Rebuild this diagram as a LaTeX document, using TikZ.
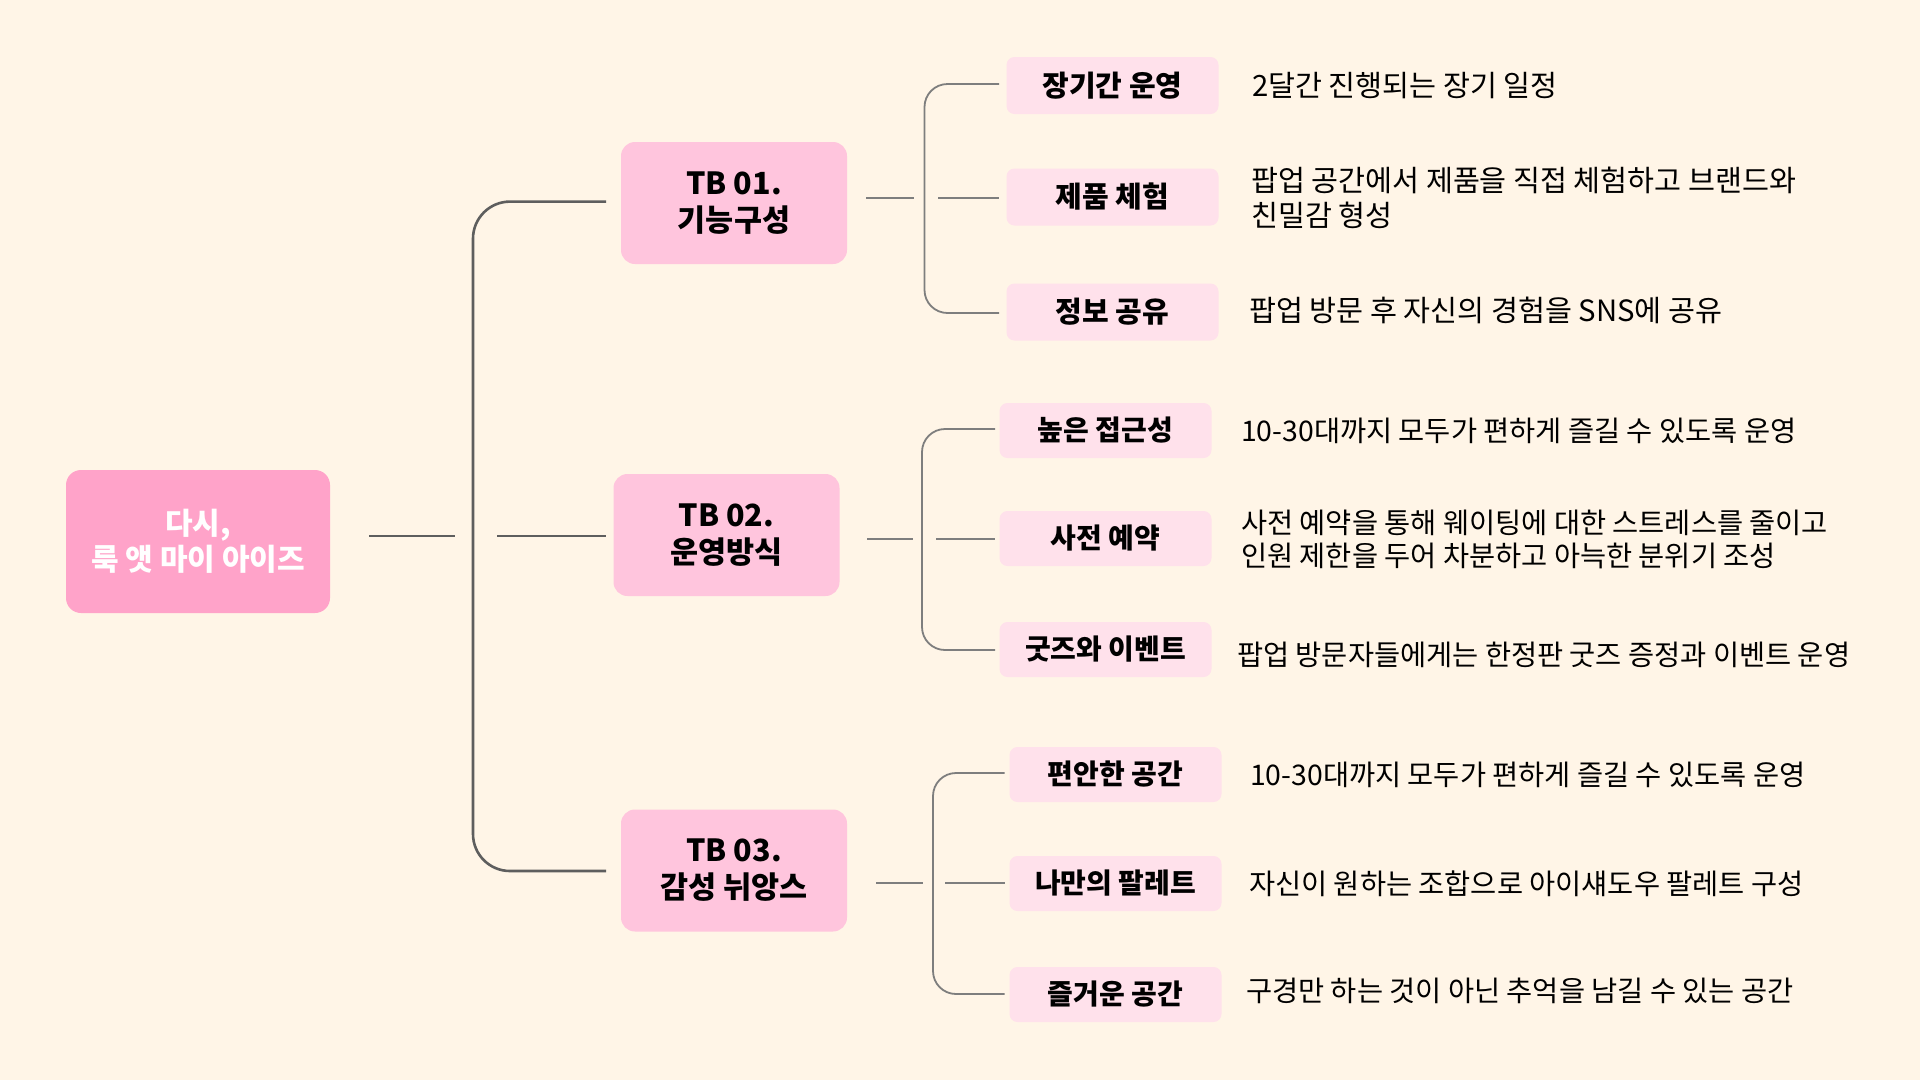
\documentclass[tikz,border=0pt]{standalone}
\usepackage{fontspec}
\setmainfont{Noto Sans CJK KR}
\usepackage{tikz}
\definecolor{paper}{HTML}{FFF5E7}
\definecolor{rootpink}{HTML}{FFA3C9}
\definecolor{tbpink}{HTML}{FFC5DD}
\definecolor{leafpink}{HTML}{FFE1EB}
\definecolor{mainline}{HTML}{5E5E5E}
\definecolor{subline}{HTML}{7E7E7E}

\begin{document}
\begin{tikzpicture}[x=1pt,y=-1pt]
% Styles
\tikzstyle{root box}=[fill=rootpink,rounded corners=15pt,minimum width=264pt,minimum height=143pt,text=white,font=\fontsize{30pt}{36pt}\selectfont\bfseries,align=center,inner sep=0pt]
\tikzstyle{tb box}=[fill=tbpink,rounded corners=14pt,minimum width=226pt,minimum height=122pt,font=\fontsize{30.5pt}{37pt}\selectfont\bfseries,align=center,inner sep=0pt]
\tikzstyle{leaf box}=[fill=leafpink,rounded corners=8pt,minimum width=212pt,minimum height=55pt,font=\fontsize{28pt}{33pt}\selectfont\bfseries,inner sep=0pt]
\tikzstyle{leaf one}=[leaf box,minimum height=57pt,font=\fontsize{29pt}{34pt}\selectfont\bfseries]
\tikzstyle{information text}=[anchor=west,align=left,inner sep=0pt,font=\fontsize{28.4pt}{33pt}\selectfont]
\tikzstyle{information one}=[information text,font=\fontsize{29.3pt}{34.5pt}\selectfont]
\tikzstyle{main link}=[draw=mainline,line width=2.6pt]
\tikzstyle{sub link}=[draw=subline,line width=1.8pt]

% background
\fill[paper] (0,0) rectangle (1920,1080);

% draw the nodes
\node[root box] (root) at (198,541.5) {다시,\\룩 앳 마이 아이즈};

\node[tb box] (tb1) at (734,203) {TB 01.\\기능구성};
\node[tb box] (tb2) at (726.5,535) {TB 02.\\운영방식};
\node[tb box] (tb3) at (734,870.5) {TB 03.\\감성 뉘앙스};

\foreach \n/\x/\y/\t in {l11/1112.5/85.5/장기간 운영,l12/1112.5/197/제품 체험,l13/1112.5/312/정보 공유} {
\node[leaf one] (\n) at (\x,\y) {\t};
}
\foreach \n/\x/\y/\t in {l21/1105.5/430.5/높은 접근성,l22/1105.5/538.5/사전 예약,l23/1105.5/649.5/굿즈와 이벤트,
  l31/1115.5/774.5/편안한 공간,l32/1115.5/883.5/나만의 팔레트,l33/1115.5/994.5/즐거운 공간} {
\node[leaf box] (\n) at (\x,\y) {\t};
}

\node[information one] (d11) at (1252,85.5) {2달간 진행되는 장기 일정};
\node[information one] (d12) at (1251,198) {팝업 공간에서 제품을 직접 체험하고 브랜드와\\친밀감 형성};
\node[information one] (d13) at (1249,310) {팝업 방문 후 자신의 경험을 SNS에 공유};
\node[information text] (d21) at (1241,430.5) {10-30대까지 모두가 편하게 즐길 수 있도록 운영};
\node[information text] (d22) at (1241,539) {사전 예약을 통해 웨이팅에 대한 스트레스를 줄이고\\인원 제한을 두어 차분하고 아늑한 분위기 조성};
\node[information text] (d23) at (1237,655) {팝업 방문자들에게는 한정판 굿즈 증정과 이벤트 운영};
\node[information text] (d31) at (1250,774.5) {10-30대까지 모두가 편하게 즐길 수 있도록 운영};
\node[information text] (d32) at (1249,883.5) {자신이 원하는 조합으로 아이섀도우 팔레트 구성};
\node[information text] (d33) at (1246,991) {구경만 하는 것이 아닌 추억을 남길 수 있는 공간};

% line ends
\coordinate (r0) at (369,536);
\coordinate (r1) at (455,536);
\coordinate (s0) at (497,536);
\coordinate (s1) at (606,536);
\coordinate (s2) at (606,201.6);
\coordinate (s3) at (606,871);
\coordinate (a0) at (866,198);   \coordinate (a1) at (914,198);
\coordinate (a2) at (938,198);   \coordinate (a3) at (999,198);
\coordinate (a4) at (999,84);    \coordinate (a5) at (999,313);
\coordinate (b0) at (867,539);   \coordinate (b1) at (913,539);
\coordinate (b2) at (936,539);   \coordinate (b3) at (995,539);
\coordinate (b4) at (995,429);   \coordinate (b5) at (995,650);
\coordinate (c0) at (876,883);   \coordinate (c1) at (923,883);
\coordinate (c2) at (945,883);   \coordinate (c3) at (1004.6,883);
\coordinate (c4) at (1004.6,773); \coordinate (c5) at (1004.6,994);

% main branches
\draw[main link] (r0) -- (r1);
\draw[main link] (s0) -- (s1);
\draw[main link,rounded corners=37pt] (s2) -- (473,201.6) -- (473,871) -- (s3);

% sub branches
\draw[sub link] (a0) -- (a1);
\draw[sub link] (a2) -- (a3);
\draw[sub link,rounded corners=23pt] (a4) -- (924.5,84) -- (924.5,313) -- (a5);
\draw[sub link] (b0) -- (b1);
\draw[sub link] (b2) -- (b3);
\draw[sub link,rounded corners=23pt] (b4) -- (922,429) -- (922,650) -- (b5);
\draw[sub link] (c0) -- (c1);
\draw[sub link] (c2) -- (c3);
\draw[sub link,rounded corners=23pt] (c4) -- (933,773) -- (933,994) -- (c5);

\end{tikzpicture}
\end{document}
